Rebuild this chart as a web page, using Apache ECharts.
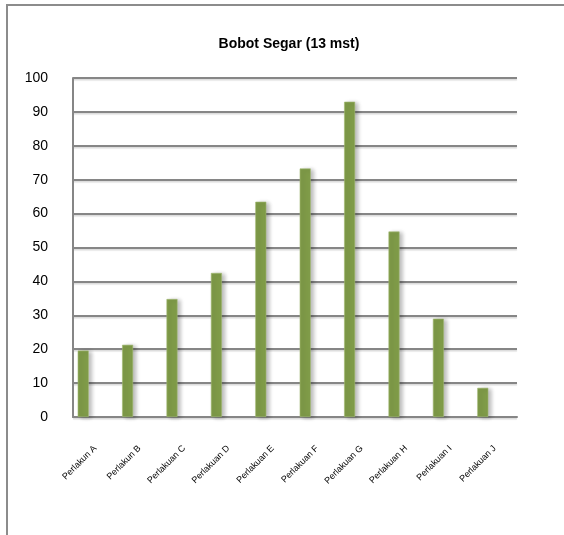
<!DOCTYPE html>
<html>
<head>
<meta charset="UTF-8">
<title>Bobot Segar (13 mst)</title>
<script src="https://cdn.jsdelivr.net/npm/echarts@6/dist/echarts.min.js"></script>
<style>
  html, body { margin: 0; padding: 0; background: #fff; }
  #chart { width: 564px; height: 535px; }
</style>
</head>
<body>
<div id="chart"></div>
<script>
  // data
  var categories = ['Perlakun A', 'Perlakun B', 'Perlakuan C', 'Perlakuan D', 'Perlakuan E',
                    'Perlakuan F', 'Perlakuan G', 'Perlakuan H', 'Perlakuan I', 'Perlakuan J'];
  var bobot = [19.6, 21.3, 34.8, 42.5, 63.5, 73.3, 93.0, 54.7, 29.0, 8.6];
  // the original has an empty second series, which pushes the bars left of centre
  var emptySeries = [null, null, null, null, null, null, null, null, null, null];

  var chart = echarts.init(document.getElementById('chart'));

  chart.setOption({
    animation: false,
    title: {
      text: 'Bobot Segar (13 mst)',
      left: 284,
      textAlign: 'center',
      top: 32,
      textStyle: { fontFamily: 'Liberation Sans', fontSize: 14, fontWeight: 'bold', color: '#000' }
    },
    graphic: [{
      type: 'rect',
      shape: { x: 7, y: 5, width: 620, height: 620 },
      style: { fill: 'none', stroke: '#8c8c8c', lineWidth: 2 },
      silent: true
    }],
    grid: { left: 73, top: 78, right: 47, bottom: 118 },
    xAxis: {
      type: 'category',
      data: categories,
      axisLine: { lineStyle: { color: '#868686', width: 2 } },
      axisTick: { show: false },
      axisLabel: {
        interval: 0,
        rotate: 45,
        margin: 30,
        fontFamily: 'Liberation Sans',
        fontSize: 9,
        color: '#000'
      }
    },
    yAxis: {
      type: 'value',
      min: 0,
      max: 100,
      interval: 10,
      axisLine: { show: true, lineStyle: { color: '#868686', width: 2 } },
      axisTick: { show: false },
      axisLabel: { margin: 25, fontFamily: 'Liberation Sans', fontSize: 14, color: '#000' },
      splitLine: {
        lineStyle: { color: '#868686', width: 2, shadowColor: 'rgba(0,0,0,0.15)', shadowOffsetY: 1.5, shadowBlur: 1 }
      }
    },
    series: [{
      type: 'bar',
      data: bobot,
      barWidth: 11,
      barGap: '118%',
      itemStyle: {
        color: '#7f9b48',
        borderColor: '#a3bb74',
        borderWidth: 0.6,
        shadowColor: 'rgba(0,0,0,0.28)',
        shadowBlur: 4,
        shadowOffsetX: 3,
        shadowOffsetY: 1
      }
    }, {
      type: 'bar',
      data: emptySeries,
      barWidth: 11
    }]
  });
</script>
</body>
</html>
